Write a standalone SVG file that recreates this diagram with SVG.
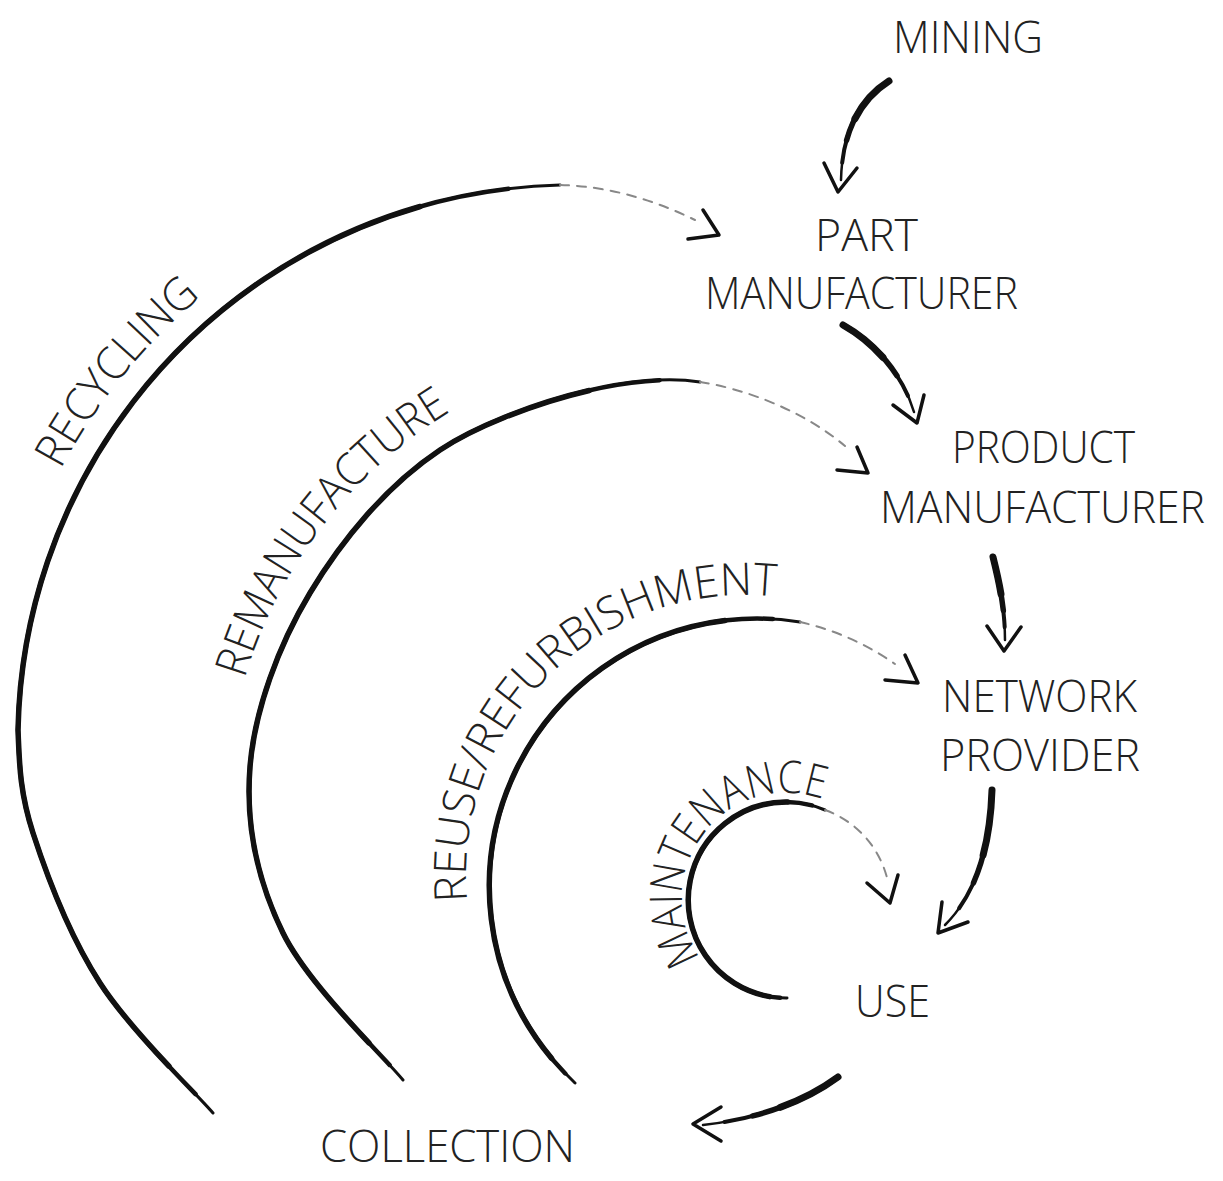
<svg xmlns="http://www.w3.org/2000/svg" width="1223" height="1181" viewBox="0 0 1223 1181">
<style>
.lbl{font-family:"Open Sans","Liberation Sans",sans-serif;font-weight:300;font-size:45px;fill:#222}
.b1{fill:none;stroke:#111;stroke-width:3;stroke-linecap:round}
.b2{fill:none;stroke:#111;stroke-width:4.5;stroke-linecap:round;stroke-dasharray:94 300;stroke-dashoffset:-2}
.b3{fill:none;stroke:#111;stroke-width:5.5;stroke-linecap:round;stroke-dasharray:84 300;stroke-dashoffset:-5}
.fade{fill:none;stroke:#888;stroke-width:2;stroke-dasharray:9 8;stroke-linecap:round}
.head{fill:none;stroke:#111;stroke-width:3.5;stroke-linecap:round;stroke-linejoin:round}
.c1{fill:none;stroke:#111;stroke-width:2.5;stroke-linecap:round}
.c2{fill:none;stroke:#111;stroke-width:4;stroke-linecap:round;stroke-dasharray:85 300}
.c3{fill:none;stroke:#111;stroke-width:5.5;stroke-linecap:round;stroke-dasharray:65 300}
.c4{fill:none;stroke:#111;stroke-width:7;stroke-linecap:round;stroke-dasharray:45 300}
</style>
<defs>
<path id="p-rec" pathLength="100" d="M213,1113 C194.2,1091.3 130,1029.7 100,983 C70,936.3 46.7,875.2 33,833 C19.3,790.8 19.3,760.5 18,730 A556,556 0 0 1 560,185"/>
<path id="p-rem" pathLength="100" d="M403,1080 C383,1055.5 308.5,985.2 283,933 C257.5,880.8 245.5,823.7 250,767 C254.5,710.3 278.3,645.8 310,593 C341.7,540.2 386.2,485.8 440,450 C493.8,414.2 620,370 700,382"/>
<path id="p-reu" pathLength="100" d="M575,1083 A268,268 0 0 1 800,622"/>
<path id="p-mai" pathLength="100" d="M787,998 A98,98 0 1 1 825,810"/>
<path id="a-mp" pathLength="100" d="M889,81 C862,98 842,130 841,180"/>
<path id="a-pp" pathLength="100" d="M843,325 C875,343 903,375 914,412"/>
<path id="a-pn" pathLength="100" d="M993,557 C1000,585 1005,610 1005,640"/>
<path id="a-nu" pathLength="100" d="M992,790 C990,850 975,895 945,925"/>
<path id="a-uc" pathLength="100" d="M838,1077 C800,1105 750,1120 703,1125"/>
<path id="t-rec" d="M60.7,469.6 A578,578 0 0 1 201,296.9"/>
<path id="t-rem" d="M244.6,678.7 A470,470 0 0 1 450.8,411.4"/>
<path id="t-reu" d="M467.2,901.4 A280,280 0 0 1 775.8,596.6"/>
<path id="t-mai" d="M700.8,957.9 A105,105 0 0 1 822.4,799.1"/>
</defs>
<rect width="1223" height="1181" fill="#fff"/>
<g id="connectors">
<g id="loop-recycling">
<use href="#p-rec" class="b1"/><use href="#p-rec" class="b2"/><use href="#p-rec" class="b3"/>
<path class="fade" d="M560,185 C605,186 650,198 695,220"/>
<polyline class="head" points="703,210 719,235 688,239"/>
</g>
<g id="loop-remanufacture">
<use href="#p-rem" class="b1"/><use href="#p-rem" class="b2"/><use href="#p-rem" class="b3"/>
<path class="fade" d="M700,382 C740,388 800,408 845,446"/>
<polyline class="head" points="857,447 868,473 837,470"/>
</g>
<g id="loop-reuse">
<use href="#p-reu" class="b1"/><use href="#p-reu" class="b2"/><use href="#p-reu" class="b3"/>
<path class="fade" d="M800,622 A268,268 0 0 1 895,664"/>
<polyline class="head" points="905,655 918,683 885,680"/>
</g>
<g id="loop-maintenance">
<use href="#p-mai" class="b1"/><use href="#p-mai" class="b2"/><use href="#p-mai" class="b3"/>
<path class="fade" d="M825,810 A98,98 0 0 1 888,882"/>
<polyline class="head" points="867,883 890,903 898,875"/>
</g>
<g id="edge-mining-part">
<use href="#a-mp" class="c1"/><use href="#a-mp" class="c2"/><use href="#a-mp" class="c3"/><use href="#a-mp" class="c4"/>
<polyline class="head" points="824,163 838,192 857,168"/>
</g>
<g id="edge-part-product">
<use href="#a-pp" class="c1"/><use href="#a-pp" class="c2"/><use href="#a-pp" class="c3"/><use href="#a-pp" class="c4"/>
<polyline class="head" points="893,405 917,423 924,395"/>
</g>
<g id="edge-product-network">
<use href="#a-pn" class="c1"/><use href="#a-pn" class="c2"/><use href="#a-pn" class="c3"/><use href="#a-pn" class="c4"/>
<polyline class="head" points="987,626 1004,651 1021,627"/>
</g>
<g id="edge-network-use">
<use href="#a-nu" class="c1"/><use href="#a-nu" class="c2"/><use href="#a-nu" class="c3"/><use href="#a-nu" class="c4"/>
<polyline class="head" points="942,902 938,933 968,922"/>
</g>
<g id="edge-use-collection">
<use href="#a-uc" class="c1"/><use href="#a-uc" class="c2"/><use href="#a-uc" class="c3"/><use href="#a-uc" class="c4"/>
<polyline class="head" points="721,1107 693,1124 721,1141"/>
</g>
</g>
<g id="node-mining"><text class="lbl" x="893" y="53" textLength="150" lengthAdjust="spacingAndGlyphs">MINING</text></g>
<g id="node-part-manufacturer">
<text class="lbl" x="815" y="251" textLength="103" lengthAdjust="spacingAndGlyphs">PART</text>
<text class="lbl" x="705" y="309" textLength="313" lengthAdjust="spacingAndGlyphs">MANUFACTURER</text>
</g>
<g id="node-product-manufacturer">
<text class="lbl" x="952" y="463" textLength="183" lengthAdjust="spacingAndGlyphs">PRODUCT</text>
<text class="lbl" x="880" y="523" textLength="325" lengthAdjust="spacingAndGlyphs">MANUFACTURER</text>
</g>
<g id="node-network-provider">
<text class="lbl" x="942" y="712" textLength="195" lengthAdjust="spacingAndGlyphs">NETWORK</text>
<text class="lbl" x="940" y="771" textLength="200" lengthAdjust="spacingAndGlyphs">PROVIDER</text>
</g>
<g id="node-use"><text class="lbl" x="855" y="1017" textLength="75" lengthAdjust="spacingAndGlyphs">USE</text></g>
<g id="node-collection"><text class="lbl" x="320" y="1162" textLength="255" lengthAdjust="spacingAndGlyphs">COLLECTION</text></g>
<g id="label-recycling"><text class="lbl"><textPath href="#t-rec" textLength="224" lengthAdjust="spacingAndGlyphs">RECYCLING</textPath></text></g>
<g id="label-remanufacture"><text class="lbl"><textPath href="#t-rem" textLength="345" lengthAdjust="spacingAndGlyphs">REMANUFACTURE</textPath></text></g>
<g id="label-reuse"><text class="lbl"><textPath href="#t-reu" textLength="496" lengthAdjust="spacingAndGlyphs">REUSE/REFURBISHMENT</textPath></text></g>
<g id="label-maintenance"><text class="lbl"><textPath href="#t-mai" textLength="265" lengthAdjust="spacingAndGlyphs">MAINTENANCE</textPath></text></g>
</svg>
